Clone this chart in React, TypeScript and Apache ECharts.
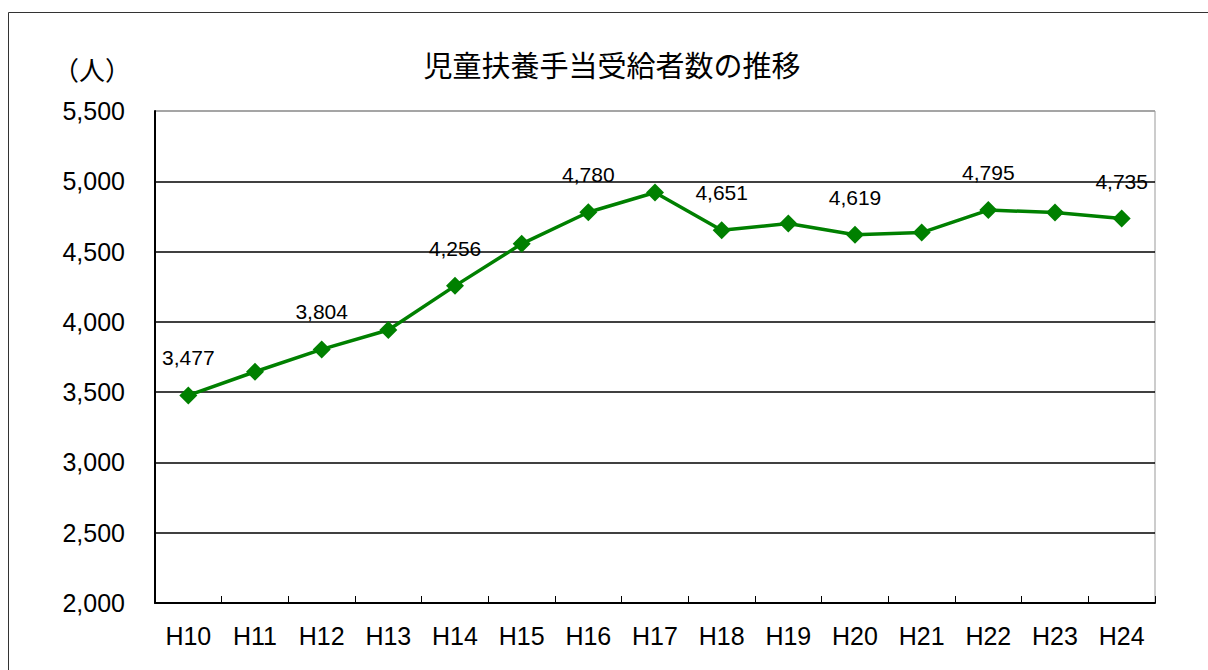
import React, { useEffect, useRef } from "react";
import * as echarts from "echarts";

const categories = ["H10", "H11", "H12", "H13", "H14", "H15", "H16", "H17", "H18", "H19", "H20", "H21", "H22", "H23", "H24"];
const values = [3477, 3645, 3804, 3942, 4256, 4555, 4780, 4920, 4651, 4700, 4619, 4635, 4795, 4778, 4735];
const showLabel = [true, false, true, false, true, false, true, false, true, false, true, false, true, false, true];
const yTicks = { min: 2000, max: 5500, interval: 500 };
const titleText = "児童扶養手当受給者数の推移";
const unitText = "（人）";

export default function App() {
  const ref = useRef<HTMLDivElement>(null);
  useEffect(() => {
    if (!ref.current) return;
    const chart = echarts.init(ref.current, undefined, { renderer: "svg" });
    const cjk = "'Noto Sans CJK JP', 'Noto Sans', sans-serif";
    const latin = "'Liberation Sans', Arial, sans-serif";
    const splitColors = ["#000", "#000", "#000", "#000", "#000", "#000", "#000", "#999"];
    chart.setOption({
      animation: false,
      backgroundColor: "#fff",
      title: {
        text: titleText,
        left: 607,
        textAlign: "center",
        top: 44,
        textStyle: { fontFamily: cjk, fontSize: 29, fontWeight: "normal", color: "#000" },
      },
      graphic: [
        {
          type: "rect",
          shape: { x: 8.5, y: 12.5, width: 1300, height: 800 },
          style: { fill: "none", stroke: "#333", lineWidth: 1 },
          silent: true,
          z: -1,
        },
        {
          type: "text",
          x: 92,
          y: 68,
          style: { text: unitText, fontFamily: cjk, fontSize: 26, fill: "#000", align: "center", verticalAlign: "middle" },
        },
      ],
      grid: { left: 155, right: 53, top: 111, bottom: 67, show: true, borderColor: "#999", borderWidth: 1 },
      xAxis: {
        type: "category",
        data: categories,
        boundaryGap: true,
        axisLine: { lineStyle: { color: "#000", width: 2 } },
        axisTick: { show: true, inside: true, length: 7, interval: 0, lineStyle: { color: "#000", width: 1 } },
        axisLabel: { interval: 0, color: "#000", fontSize: 25, fontFamily: latin, margin: 20 },
      },
      yAxis: {
        type: "value",
        min: yTicks.min,
        max: yTicks.max,
        interval: yTicks.interval,
        axisLine: { show: true, lineStyle: { color: "#000", width: 2 } },
        axisTick: { show: false },
        axisLabel: {
          color: "#000",
          fontSize: 25,
          fontFamily: latin,
          margin: 30,
          formatter: (v: number) => v.toLocaleString("en-US"),
        },
        splitLine: { show: true, lineStyle: { color: splitColors, width: 1.5 } },
      },
      series: [
        {
          type: "line",
          data: values.map((v, i) => ({ value: v, label: { show: showLabel[i] } })),
          symbol: "diamond",
          symbolSize: 18,
          itemStyle: { color: "#008000" },
          lineStyle: { color: "#008000", width: 3.5 },
          label: {
            position: "top",
            distance: 18,
            color: "#000",
            fontSize: 21,
            fontFamily: latin,
            formatter: (p: any) => Number(p.value).toLocaleString("en-US"),
          },
        },
      ],
    });
    return () => chart.dispose();
  }, []);
  return <div ref={ref} style={{ position: "absolute", left: 0, top: 0, width: 1208, height: 670 }} />;
}
